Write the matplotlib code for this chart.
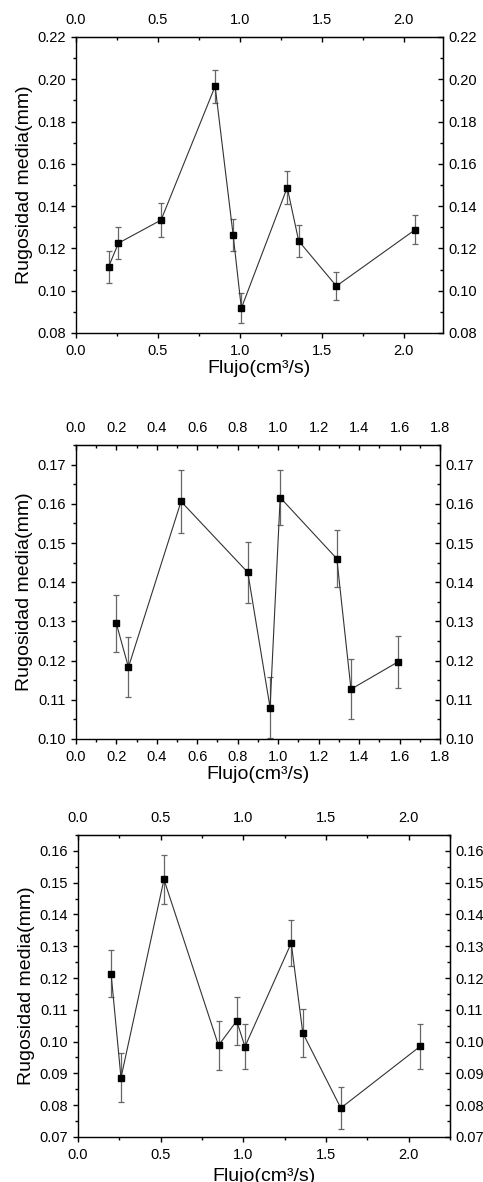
import numpy as np
import matplotlib
matplotlib.use('Agg')
from matplotlib import pyplot as plt
from matplotlib.ticker import MultipleLocator, FormatStrFormatter

plt.rcParams['font.family'] = ['Liberation Sans', 'DejaVu Sans']

# panel 1
flujo1 = [0.20, 0.26, 0.52, 0.85, 0.96, 1.01, 1.29, 1.36, 1.59, 2.07]
rug1 = [0.1113, 0.1225, 0.1334, 0.1967, 0.1263, 0.0917, 0.1488, 0.1235, 0.1022, 0.1288]
err1 = [0.0075, 0.0077, 0.0080, 0.0077, 0.0077, 0.0070, 0.0076, 0.0074, 0.0065, 0.0069]

# panel 2
flujo2 = [0.20, 0.26, 0.52, 0.85, 0.96, 1.01, 1.29, 1.36, 1.59]
rug2 = [0.1295, 0.1183, 0.1606, 0.1425, 0.1080, 0.1616, 0.1460, 0.1127, 0.1196]
err2 = [0.0072, 0.0076, 0.0080, 0.0078, 0.0077, 0.0071, 0.0073, 0.0077, 0.0066]

# panel 3
flujo3 = [0.20, 0.26, 0.52, 0.85, 0.96, 1.01, 1.29, 1.36, 1.59, 2.07]
rug3 = [0.1214, 0.0886, 0.1510, 0.0988, 0.1065, 0.0984, 0.1310, 0.1027, 0.0791, 0.0985]
err3 = [0.0074, 0.0077, 0.0077, 0.0078, 0.0076, 0.0071, 0.0072, 0.0077, 0.0066, 0.0070]

panels = [
    (flujo1, rug1, err1, [0.157, 0.7183, 0.760, 0.2504], (0, 2.24), (0.08, 0.22), 0.5, 0.02, 2),
    (flujo2, rug2, err2, [0.157, 0.3748, 0.754, 0.2487], (0, 1.8), (0.10, 0.175), 0.2, 0.01, 2),
    (flujo3, rug3, err3, [0.1615, 0.0381, 0.770, 0.2555], (0, 2.25), (0.07, 0.165), 0.5, 0.01, 5),
]

fig = plt.figure(figsize=(4.83, 11.82), dpi=100)

for x, y, e, rect, xl, yl, xmaj, ymaj, xpad in panels:
    ax = fig.add_axes(rect)
    ax.errorbar(x, y, yerr=e, fmt='none', ecolor='#666666', elinewidth=0.9,
                capsize=2.5, capthick=0.9)
    ax.plot(x, y, '-', color='#333333', lw=0.8)
    ax.plot(x, y, 's', color='black', ms=4.3)
    ax.set_xlim(*xl)
    ax.set_ylim(*yl)
    ax.xaxis.set_major_locator(MultipleLocator(xmaj))
    ax.xaxis.set_minor_locator(MultipleLocator(xmaj / 2))
    ax.yaxis.set_major_locator(MultipleLocator(ymaj))
    ax.yaxis.set_minor_locator(MultipleLocator(ymaj / 2))
    ax.xaxis.set_major_formatter(FormatStrFormatter('%.1f'))
    ax.yaxis.set_major_formatter(FormatStrFormatter('%.2f'))
    ax.tick_params(which='major', direction='out', length=3.6, width=1, labelsize=10.5)
    ax.tick_params(axis='y', which='major', pad=3.6)
    ax.tick_params(axis='x', which='major', pad=4)
    ax.tick_params(which='minor', direction='out', length=2.2, width=1)
    for s in ax.spines.values():
        s.set_linewidth(1.0)
    ax.set_xlabel('Flujo(cm³/s)', fontsize=14, labelpad=xpad)
    ax.set_ylabel('Rugosidad media(mm)', fontsize=14, labelpad=3)

    top = ax.secondary_xaxis('top')
    top.xaxis.set_major_locator(MultipleLocator(xmaj))
    top.xaxis.set_minor_locator(MultipleLocator(xmaj / 2))
    top.xaxis.set_major_formatter(FormatStrFormatter('%.1f'))
    top.tick_params(which='major', direction='in', length=3.6, width=1, labelsize=10.5, pad=7)
    top.tick_params(which='minor', direction='in', length=2.2, width=1)

    right = ax.secondary_yaxis('right')
    right.yaxis.set_major_locator(MultipleLocator(ymaj))
    right.yaxis.set_minor_locator(MultipleLocator(ymaj / 2))
    right.yaxis.set_major_formatter(FormatStrFormatter('%.2f'))
    right.tick_params(which='major', direction='in', length=3.6, width=1, labelsize=10.5, pad=4)
    right.tick_params(which='minor', direction='in', length=2.2, width=1)

fig.savefig('out.png', dpi=100)
